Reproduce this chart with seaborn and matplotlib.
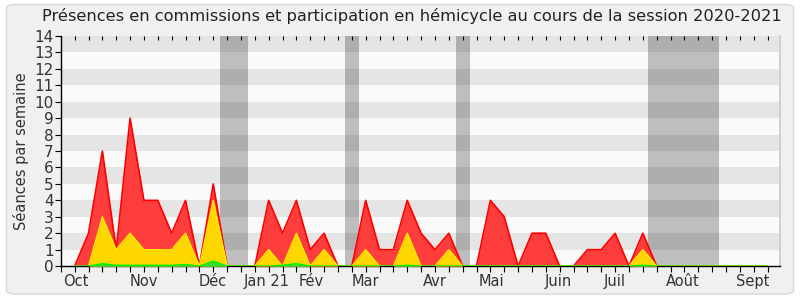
import numpy as np
import pandas as pd
import matplotlib
matplotlib.use("Agg")
import matplotlib.pyplot as plt
import seaborn as sns
from matplotlib.patches import FancyBboxPatch

# weekly data (week index 1 = first week of October 2020)
weeks = list(range(1, 52))
total = [0, 2, 7, 1, 9, 4, 4, 2, 4, 0, 5, 0, 0, 0, 4, 2, 4, 1, 2, 0,
         0, 4, 1, 1, 4, 2, 1, 2, 0, 0, 4, 3, 0, 2, 2, 0, 0, 1, 1, 2,
         0, 2, 0, 0, 0, 0, 0, 0, 0, 0, 0]
commission = [0, 0, 3, 1, 2, 1, 1, 1, 2, 0, 4, 0, 0, 0, 1, 0, 2, 0, 1, 0,
              0, 1, 0, 0, 2, 0, 0, 1, 0, 0, 0, 0, 0, 0, 0, 0, 0, 0, 0, 0,
              0, 1, 0, 0, 0, 0, 0, 0, 0, 0, 0]
hemicycle = [0, 0, 0.15, 0.05, 0.05, 0.05, 0.05, 0.05, 0.1, 0, 0.3, 0, 0, 0, 0, 0.05, 0.15, 0, 0, 0,
             0, 0, 0, 0, 0.05, 0, 0, 0, 0, 0, 0, 0, 0, 0, 0, 0, 0, 0, 0, 0,
             0, 0.05, 0, 0, 0, 0, 0, 0, 0, 0, 0]
holidays = [(11.5, 13.5), (20.5, 21.5), (28.5, 29.5), (42.4, 47.5)]
month_pos = [1.1, 6, 11, 14.85, 18.1, 22, 27, 31.1, 35.9, 40, 44.9, 49.9]
month_lbl = ["Oct", "Nov", "Déc", "Jan 21", "Fév", "Mar", "Avr", "Mai",
             "Juin", "Juil", "Août", "Sept"]

df = pd.DataFrame({"week": weeks, "total": total,
                   "commission": commission, "hemicycle": hemicycle})

sns.set_theme(style="white")
plt.rcParams['font.family'] = ['DejaVu Sans']

fig = plt.figure(figsize=(8, 3), dpi=100, facecolor="white")
fig.patches.append(FancyBboxPatch((0.008, 0.02), 0.984, 0.965,
                                  boxstyle="round,pad=0,rounding_size=0.012",
                                  transform=fig.transFigure, facecolor="#f0f0f0",
                                  edgecolor="#d9d9d9", linewidth=1, zorder=-10))
ax = fig.add_axes([0.076, 0.113, 0.899, 0.767])
ax.set_facecolor("#fafafa")

# horizontal stripes
for y in range(1, 14, 2):
    ax.axhspan(y, y + 1, color="#e5e5e5", lw=0, zorder=0)
# holiday bands
for a, b in holidays:
    ax.axvspan(a, b, color="black", alpha=0.24, lw=0, zorder=1)

ax.fill_between(df["week"], 0, df["total"], color="#ff3333", alpha=0.95, lw=0, zorder=2)
sns.lineplot(data=df, x="week", y="total", color="#ff0000", lw=1.2, ax=ax, zorder=3)
ax.fill_between(df["week"], 0, df["commission"], color="#ffd700", lw=0, zorder=4)
sns.lineplot(data=df, x="week", y="commission", color="#ffee00", lw=1.0, ax=ax, zorder=5)
ax.fill_between(df["week"], 0, df["hemicycle"], color="#33dd33", lw=0, zorder=6)
sns.lineplot(data=df, x="week", y="hemicycle", color="#00ee00", lw=1.0, ax=ax, zorder=7)

ax.set_xlim(0, 51.9)
ax.set_ylim(0, 14)
ax.set_yticks(range(0, 15))
ax.set_yticklabels([str(v) for v in range(0, 15)], fontsize=11, color="#333333")
ax.set_xticks(range(0, 52))
ax.set_xticklabels([""] * 52)
ax.tick_params(axis="x", which="major", direction="out", length=4, width=0.8,
               color="black", bottom=True, top=False)
ax.tick_params(axis="y", direction="out", length=4, width=0.8, color="black",
               left=True, pad=1)
xform = ax.get_xaxis_transform()
for p, lbl in zip(month_pos, month_lbl):
    ax.text(p, -0.035, lbl, transform=xform, ha="center", va="top",
            fontsize=10.5, color="#333333")

top = ax.secondary_xaxis("top")
top.set_xticks(range(0, 52))
top.set_xticklabels([])
top.tick_params(direction="in", length=3, width=0.8, color="black")
top.spines["top"].set_visible(False)

ax.set_xlabel("")
ax.set_ylabel("Séances par semaine", fontsize=10.5, color="#333333", labelpad=4)

for s in ["left", "bottom"]:
    ax.spines[s].set_color("black")
    ax.spines[s].set_linewidth(1)
ax.spines["top"].set_visible(False)
ax.spines["right"].set_color("#cccccc")

fig.text(0.515, 0.945, "Présences en commissions et participation en hémicycle au cours de la session 2020-2021",
         ha="center", va="center", fontsize=11.7, color="#222222")

fig.savefig("out.png", dpi=100, facecolor=fig.get_facecolor())
